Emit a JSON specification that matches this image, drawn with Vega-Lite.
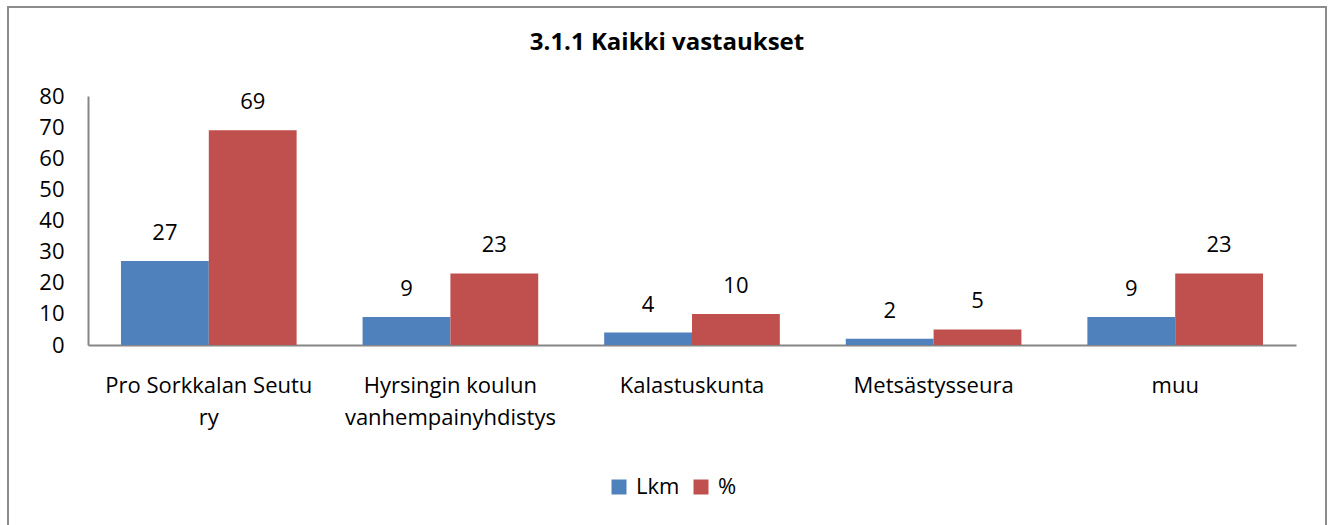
{
  "$schema": "https://vega.github.io/schema/vega-lite/v6.json",
  "autosize": {"type": "none"},
  "padding": {"left": 8, "top": 7, "right": 5, "bottom": 0},
  "width": 1318,
  "height": 530,
  "title": {
    "text": "3.1.1 Kaikki vastaukset",
    "anchor": "middle",
    "frame": "group",
    "orient": "top",
    "baseline": "middle",
    "offset": -60,
    "fontSize": 24,
    "fontWeight": "bold",
    "color": "#000000"
  },
  "data": {
    "values": [
      {"cat": "Pro Sorkkalan Seutu ry", "series": "Lkm", "value": 27},
      {"cat": "Pro Sorkkalan Seutu ry", "series": "%", "value": 69},
      {"cat": "Hyrsingin koulun vanhempainyhdistys", "series": "Lkm", "value": 9},
      {"cat": "Hyrsingin koulun vanhempainyhdistys", "series": "%", "value": 23},
      {"cat": "Kalastuskunta", "series": "Lkm", "value": 4},
      {"cat": "Kalastuskunta", "series": "%", "value": 10},
      {"cat": "Metsästysseura", "series": "Lkm", "value": 2},
      {"cat": "Metsästysseura", "series": "%", "value": 5},
      {"cat": "muu", "series": "Lkm", "value": 9},
      {"cat": "muu", "series": "%", "value": 23}
    ]
  },
  "encoding": {
    "x": {
      "field": "cat",
      "type": "nominal",
      "sort": null,
      "scale": {"range": [80, 1288], "paddingInner": 0.273, "paddingOuter": 0.1365},
      "axis": {
        "title": null,
        "labelAngle": 0,
        "ticks": false,
        "offset": -192,
        "domainColor": "#868686",
        "domainWidth": 2,
        "labelFontSize": 22,
        "labelColor": "#000000",
        "labelPadding": 30,
        "labelLineHeight": 32,
        "labelBaseline": "top",
        "labelLimit": 0,
        "labelExpr": "datum.label == 'Pro Sorkkalan Seutu ry' ? ['Pro Sorkkalan Seutu', 'ry'] : datum.label == 'Hyrsingin koulun vanhempainyhdistys' ? ['Hyrsingin koulun', 'vanhempainyhdistys'] : datum.label"
      }
    },
    "xOffset": {
      "field": "series",
      "type": "nominal",
      "sort": ["Lkm", "%"],
      "scale": {"domain": ["Lkm", "%"], "paddingInner": 0, "paddingOuter": 0}
    },
    "y": {
      "field": "value",
      "type": "quantitative",
      "scale": {"domain": [0, 80], "range": [338, 89], "nice": false, "zero": true},
      "axis": {
        "title": null,
        "values": [0, 10, 20, 30, 40, 50, 60, 70, 80],
        "grid": false,
        "ticks": false,
        "offset": -80,
        "domainColor": "#868686",
        "domainWidth": 2,
        "labelFontSize": 22,
        "labelColor": "#000000",
        "labelPadding": 24
      }
    }
  },
  "layer": [
    {
      "mark": {"type": "bar"},
      "encoding": {
        "color": {
          "field": "series",
          "type": "nominal",
          "scale": {"domain": ["Lkm", "%"], "range": ["#4F81BD", "#C0504D"]},
          "legend": {
            "orient": "none",
            "legendX": 600,
            "legendY": 469,
            "direction": "horizontal",
            "title": null,
            "symbolType": "square",
            "symbolSize": 225,
            "symbolStrokeWidth": 0,
            "labelFontSize": 22,
            "labelColor": "#000000",
            "labelOffset": 6,
            "columnPadding": 10
          }
        }
      }
    },
    {
      "mark": {"type": "text", "baseline": "middle", "dy": -28, "fontSize": 22, "color": "#000000"},
      "encoding": {"text": {"field": "value", "type": "quantitative"}}
    }
  ],
  "config": {
    "font": "Open Sans",
    "view": {"stroke": "#8c8c8c", "strokeWidth": 2},
    "background": "#ffffff"
  }
}
